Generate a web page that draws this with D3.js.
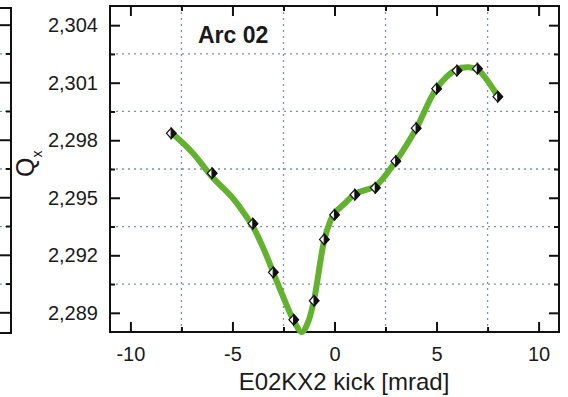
<!DOCTYPE html>
<html>
<head>
<meta charset="utf-8">
<script src="https://cdn.jsdelivr.net/npm/d3@7"></script>
<style>
  body { margin: 0; background: #fff; }
  text { font-family: "Liberation Sans", Arial, sans-serif; fill: #1a1a1a; }
</style>
</head>
<body>
<div id="chart"></div>
<script>
// measured points (kick in mrad, tune Qx)
var kick = [-8, -6, -4, -3, -2, -1, -0.5, 0, 1, 2, 3, 4, 5, 6, 7, 8];
var qx = [2.29836, 2.29628, 2.29365, 2.29111, 2.28864, 2.28963, 2.29283, 2.29411,
          2.29516, 2.29552, 2.29691, 2.29863, 2.30069, 2.30163, 2.30173, 2.30027];

// green fit curve
var fitKick = [-8, -7, -6, -5, -4.5, -4, -3.5, -3, -2.5, -2, -1.6, -1.3, -1, -0.5, -0.2, 0, 0.5, 1, 1.5, 2, 3, 4, 5, 6, 6.6, 7, 8];
var fitQx = [2.2984, 2.2974, 2.2961, 2.2950, 2.2943, 2.2935, 2.2924, 2.2911, 2.2898, 2.2886, 2.2880, 2.2885, 2.2897,
             2.2928, 2.2938, 2.2942, 2.2947, 2.2952, 2.2954, 2.2956, 2.2969, 2.2986, 2.3007, 2.3017, 2.3018, 2.3017, 2.3003];

var xTicks = [-10, -5, 0, 5, 10];
var xMinor = [-7.5, -2.5, 2.5, 7.5];
var yTicks = [2.289, 2.292, 2.295, 2.298, 2.301, 2.304];
var yMinor = [2.2905, 2.2935, 2.2965, 2.2995, 2.3025];

var W = 568, H = 397;
var L = 110, R = 559, T = 6, B = 332;

var svg = d3.select("#chart").append("svg")
    .attr("width", W).attr("height", H);

var x = d3.scaleLinear().domain([-11, 11]).range([L, R]);
var y = d3.scaleLinear().domain([2.288, 2.305]).range([B, T]);

var loc = d3.formatLocale({decimal: ",", thousands: ".", grouping: [3], currency: ["", ""], minus: "-"});
var commaFmt = loc.format(".3f");
var intFmt = loc.format("d");

// cut-off neighbour panel on the left
var nb = svg.append("g");
nb.append("path")
    .attr("d", "M0," + (T + 2) + "H11V" + (B + 1) + "H0")
    .attr("fill", "none").attr("stroke", "#111").attr("stroke-width", 2);
nb.selectAll(".nbMajor").data(yTicks).enter().append("line")
    .attr("x1", 0).attr("x2", 11)
    .attr("y1", function(d) { return y(d); }).attr("y2", function(d) { return y(d); })
    .attr("stroke", "#111").attr("stroke-width", 2);
nb.selectAll(".nbMinor").data(yMinor).enter().append("line")
    .attr("x1", 0).attr("x2", 11)
    .attr("y1", function(d) { return y(d); }).attr("y2", function(d) { return y(d); })
    .attr("stroke", "#7f93a3").attr("stroke-width", 1.3).attr("stroke-dasharray", "2,3");
nb.selectAll(".nbMinorTick").data(yMinor).enter().append("line")
    .attr("x1", 6).attr("x2", 11)
    .attr("y1", function(d) { return y(d); }).attr("y2", function(d) { return y(d); })
    .attr("stroke", "#111").attr("stroke-width", 2);

// dotted grid
svg.append("g").selectAll("line").data(xMinor).enter().append("line")
    .attr("x1", function(d) { return x(d); }).attr("x2", function(d) { return x(d); })
    .attr("y1", T).attr("y2", B)
    .attr("stroke", "#7f93a3").attr("stroke-width", 1.3).attr("stroke-dasharray", "2,4");
svg.append("g").selectAll("line").data(yMinor).enter().append("line")
    .attr("x1", L).attr("x2", R)
    .attr("y1", function(d) { return y(d); }).attr("y2", function(d) { return y(d); })
    .attr("stroke", "#7f93a3").attr("stroke-width", 1.3).attr("stroke-dasharray", "2,4");

// axes, ticks pointing inwards
function styleAxis(g) {
  g.select(".domain").remove();
  g.selectAll(".tick line").attr("stroke", "#111").attr("stroke-width", 2);
  g.selectAll(".tick text").style("font-size", "20px").attr("fill", "#1a1a1a");
}

svg.append("g").attr("transform", "translate(0," + B + ")")
    .call(d3.axisBottom(x).tickValues(xTicks).tickSize(-10).tickPadding(15).tickFormat(intFmt))
    .call(styleAxis);
svg.append("g").attr("transform", "translate(0," + B + ")")
    .call(d3.axisBottom(x).tickValues(xMinor).tickSize(-5).tickFormat(""))
    .call(styleAxis);
svg.append("g").attr("transform", "translate(0," + T + ")")
    .call(d3.axisTop(x).tickValues(xTicks).tickSize(-10).tickFormat(""))
    .call(styleAxis);
svg.append("g").attr("transform", "translate(0," + T + ")")
    .call(d3.axisTop(x).tickValues(xMinor).tickSize(-5).tickFormat(""))
    .call(styleAxis);
svg.append("g").attr("transform", "translate(" + L + ",0)")
    .call(d3.axisLeft(y).tickValues(yTicks).tickSize(-10).tickPadding(12).tickFormat(commaFmt))
    .call(styleAxis);
svg.append("g").attr("transform", "translate(" + L + ",0)")
    .call(d3.axisLeft(y).tickValues(yMinor).tickSize(-5).tickFormat(""))
    .call(styleAxis);
svg.append("g").attr("transform", "translate(" + R + ",0)")
    .call(d3.axisRight(y).tickValues(yTicks).tickSize(-10).tickFormat(""))
    .call(styleAxis);
svg.append("g").attr("transform", "translate(" + R + ",0)")
    .call(d3.axisRight(y).tickValues(yMinor).tickSize(-5).tickFormat(""))
    .call(styleAxis);

// frame
svg.append("rect")
    .attr("x", L).attr("y", T).attr("width", R - L).attr("height", B - T)
    .attr("fill", "none").attr("stroke", "#111").attr("stroke-width", 2);

// fit curve
var fit = fitKick.map(function(k, i) { return {k: k, q: fitQx[i]}; });
svg.append("path")
    .datum(fit)
    .attr("fill", "none")
    .attr("stroke", "#62b22f")
    .attr("stroke-width", 6)
    .attr("stroke-linecap", "round")
    .attr("d", d3.line()
      .x(function(d) { return x(d.k); })
      .y(function(d) { return y(d.q); })
      .curve(d3.curveCatmullRom.alpha(0.5)));

// half-filled diamond markers
var pts = kick.map(function(k, i) { return {k: k, q: qx[i]}; });
var hw = 4.8, hh = 5.2;
var mk = svg.append("g").selectAll("g").data(pts).enter().append("g")
    .attr("transform", function(d) { return "translate(" + x(d.k) + "," + y(d.q) + ")"; });
mk.append("path")
    .attr("d", "M0," + (-hh) + "L" + hw + ",0L0," + hh + "L" + (-hw) + ",0Z")
    .attr("fill", "#fff").attr("stroke", "#111").attr("stroke-width", 1.2);
mk.append("path")
    .attr("d", "M0," + (-hh) + "L" + hw + ",0L0," + hh + "Z")
    .attr("fill", "#111").attr("stroke", "#111").attr("stroke-width", 1.2);

// labels
svg.append("text")
    .attr("x", 198).attr("y", 43)
    .style("font-size", "23px").style("font-weight", "bold")
    .text("Arc 02");

svg.append("text")
    .attr("x", 344).attr("y", 390)
    .attr("text-anchor", "middle")
    .style("font-size", "24px")
    .text("E02KX2 kick [mrad]");

var ql = svg.append("text")
    .attr("transform", "translate(34,177) rotate(-90)")
    .style("font-size", "25px");
ql.append("tspan").text("Q");
ql.append("tspan").attr("dy", 8).style("font-size", "14px").text("x");
</script>
</body>
</html>
